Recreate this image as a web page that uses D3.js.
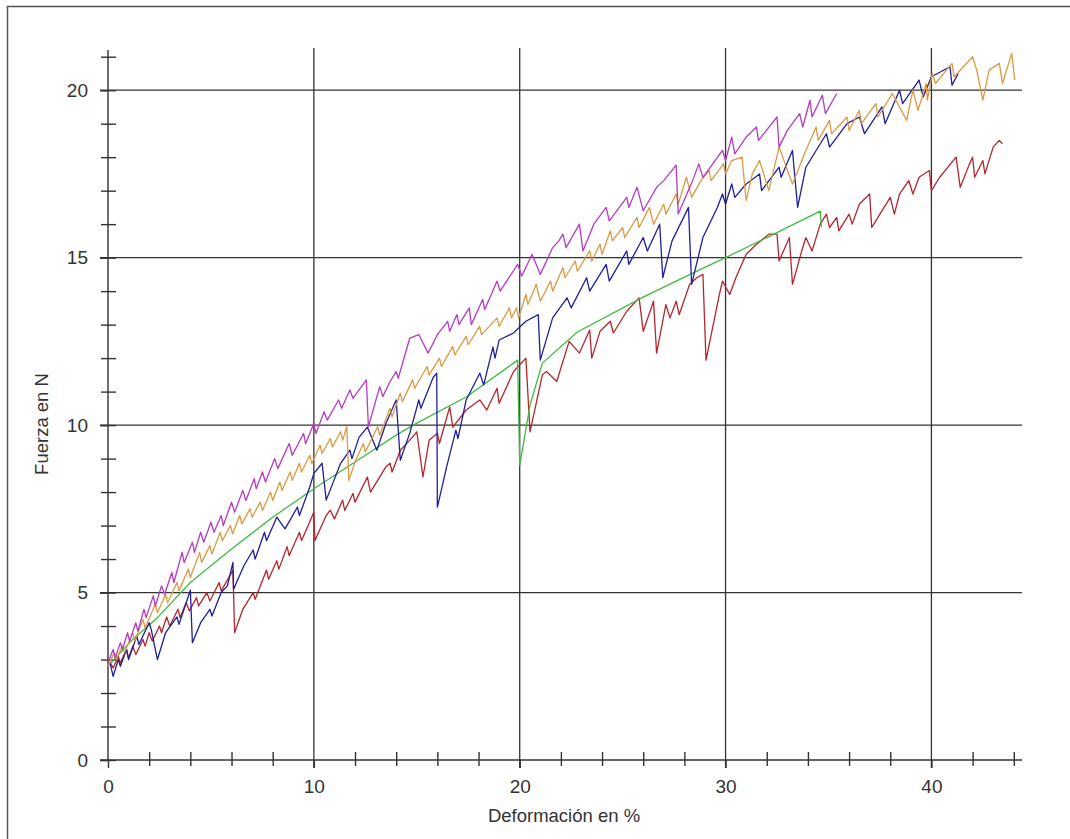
<!DOCTYPE html>
<html>
<head>
<meta charset="utf-8">
<script src="https://cdn.jsdelivr.net/npm/d3@7"></script>
<style>
  html, body { margin: 0; padding: 0; background: #fff; }
  svg { display: block; }
  text { font-family: "Liberation Sans", Arial, sans-serif; fill: #333; }
</style>
</head>
<body>
<div id="chart"></div>
<script>
// ============================================================
//  Fuerza vs. deformación — five test runs
// ============================================================

// ---- data: [deformación %, fuerza N] ----
const purple = [
  [0.0,2.9],[0.25,3.3],[0.35,3.05],[0.6,3.5],[0.7,3.3],[0.95,3.8],[1.05,3.55],[1.35,4.1],[1.45,3.85],
  [1.75,4.5],[1.85,4.25],[2.2,4.9],[2.3,4.6],[2.6,5.2],[2.75,4.95],[3.1,5.6],[3.2,5.3],[3.6,6.2],[3.7,5.9],
  [4.1,6.5],[4.2,6.2],[4.5,6.8],[4.65,6.5],[5.0,7.1],[5.15,6.8],[5.5,7.3],[5.6,7.0],[6.0,7.7],[6.15,7.4],
  [6.55,8.05],[6.7,7.75],[7.1,8.4],[7.2,8.1],[7.5,8.6],[7.65,8.3],[8.1,9.0],[8.25,8.7],[8.8,9.45],[8.95,9.1],
  [9.5,9.75],[9.6,9.45],[10.0,10.05],[10.1,9.75],[10.5,10.4],[10.65,10.15],[11.2,10.75],[11.35,10.5],
  [11.75,11.05],[11.9,10.8],[12.55,11.35],[12.65,9.95],[13.2,11.15],[13.35,10.85],[13.7,11.3],[14.0,11.6],
  [14.1,11.4],[14.66,12.6],[15.1,12.7],[15.55,12.15],[16.0,12.7],[16.5,13.1],[16.6,12.8],[16.95,13.3],
  [17.05,13.0],[17.55,13.5],[17.65,13.0],[18.2,13.75],[18.3,13.45],[18.9,14.3],[19.05,14.0],[19.9,14.8],
  [20.1,14.45],[20.6,15.1],[21.0,14.5],[21.6,15.3],[21.9,15.5],[22.1,15.7],[22.25,15.3],[22.9,16.0],
  [23.07,15.2],[23.6,16.0],[24.2,16.5],[24.35,16.1],[25.2,16.8],[25.3,16.5],[25.7,17.1],[26.0,16.4],
  [26.65,17.1],[27.0,17.3],[27.6,17.76],[27.7,16.3],[28.4,17.3],[28.7,17.8],[28.9,17.4],[29.85,18.2],
  [30.0,17.9],[30.3,18.6],[30.45,18.1],[31.0,18.6],[31.5,18.9],[31.6,18.5],[32.5,19.2],[32.6,18.3],
  [33.0,18.8],[33.6,19.3],[33.75,18.9],[34.1,19.7],[34.2,19.2],[34.7,19.85],[34.85,19.3],[35.4,19.9]
];

const orange = [
  [0.0,2.8],[0.3,3.2],[0.4,3.0],[0.7,3.4],[0.8,3.2],[1.2,3.8],[1.3,3.55],[1.7,4.2],[1.8,3.95],[2.3,4.65],
  [2.4,4.4],[2.8,4.95],[2.9,4.7],[3.35,5.3],[3.45,5.05],[3.9,5.7],[4.0,5.45],[4.45,6.2],[4.55,5.9],[4.95,6.4],
  [5.05,6.15],[5.45,6.8],[5.55,6.55],[5.95,7.0],[6.05,6.75],[6.4,7.3],[6.5,7.05],[6.9,7.5],[7.0,7.25],
  [7.4,7.7],[7.5,7.45],[7.9,8.0],[8.0,7.75],[8.35,8.3],[8.45,8.05],[8.85,8.6],[8.95,8.35],[9.3,8.86],
  [9.4,8.6],[9.8,9.1],[9.9,8.85],[10.3,9.4],[10.4,9.15],[10.8,9.6],[10.9,9.35],[11.3,9.8],[11.4,9.55],
  [11.6,9.95],[11.7,8.35],[12.0,8.9],[12.4,9.45],[12.5,9.2],[13.1,9.95],[13.2,9.7],[13.7,10.5],[13.8,10.25],
  [14.2,10.95],[14.3,10.7],[14.8,11.35],[14.9,11.1],[15.5,11.75],[15.6,11.5],[16.1,12.0],[16.2,11.75],
  [16.75,12.35],[16.85,12.1],[17.4,12.65],[17.5,12.4],[18.05,12.95],[18.15,12.7],[18.9,13.2],[19.0,12.95],
  [19.5,13.5],[19.6,13.2],[19.85,13.5],[19.95,13.2],[20.3,13.9],[20.4,13.6],[20.8,14.2],[21.0,13.7],
  [21.5,14.3],[21.6,14.0],[22.1,14.7],[22.2,14.4],[22.7,14.9],[22.8,14.6],[23.4,15.2],[23.5,14.9],
  [23.9,15.4],[24.0,15.1],[24.4,15.8],[24.5,15.5],[25.0,15.9],[25.1,15.6],[25.7,16.2],[25.8,15.9],
  [26.3,16.5],[26.5,16.0],[27.0,16.6],[27.1,16.3],[27.6,16.9],[27.7,16.6],[28.1,17.4],[28.35,16.8],
  [28.8,17.3],[29.2,17.6],[29.3,17.3],[29.9,17.8],[30.0,17.5],[30.3,17.9],[30.8,18.0],[31.0,16.7],
  [31.3,17.5],[31.65,17.9],[32.1,17.0],[32.6,18.3],[33.25,17.2],[33.9,18.2],[34.4,18.9],[34.5,18.5],
  [35.05,19.1],[35.15,18.7],[35.9,19.2],[36.0,18.8],[36.5,19.4],[36.6,19.0],[37.3,19.6],[37.4,19.2],
  [38.1,19.9],[38.8,19.1],[39.1,20.0],[39.35,19.4],[39.75,20.2],[39.8,19.7],[40.05,20.5],[40.2,20.2],
  [41.0,20.8],[41.1,20.4],[42.0,21.0],[42.2,20.6],[42.5,19.7],[42.8,20.6],[43.3,20.8],[43.45,20.2],
  [43.9,21.1],[44.05,20.3]
];

const blue = [
  [0.1,2.9],[0.25,2.5],[0.5,3.0],[0.6,2.8],[0.9,3.3],[1.0,3.0],[1.4,3.7],[1.5,3.45],[2.0,4.1],[2.1,3.9],
  [2.4,3.0],[2.8,3.8],[3.35,4.27],[3.45,4.05],[4.0,5.07],[4.1,3.5],[4.5,4.1],[4.95,4.5],[5.05,4.3],
  [5.5,5.0],[5.8,5.2],[6.07,5.9],[6.1,5.1],[6.6,5.8],[7.05,6.27],[7.15,6.0],[7.6,6.8],[7.7,6.55],
  [8.2,7.25],[8.6,6.9],[9.2,7.55],[9.3,7.3],[9.8,8.15],[10.0,8.56],[10.4,8.86],[10.6,7.76],[11.3,8.86],
  [11.75,9.25],[11.85,9.0],[12.2,9.64],[12.6,9.94],[13.06,9.25],[13.5,10.05],[14.0,10.75],[14.2,8.95],
  [14.66,9.76],[15.1,10.75],[15.2,10.5],[15.8,11.43],[15.97,11.55],[16.0,7.55],[16.45,8.75],[16.9,9.85],
  [17.0,9.6],[17.4,10.75],[18.06,11.55],[18.25,11.2],[18.7,12.33],[18.8,12.0],[19.0,12.54],[19.7,12.75],
  [20.0,12.93],[20.3,13.1],[20.9,13.3],[21.0,11.94],[21.6,13.2],[22.3,13.8],[22.5,13.5],[23.25,14.4],
  [23.4,14.0],[23.9,14.5],[24.2,14.8],[24.35,14.3],[25.2,15.2],[25.3,14.8],[26.0,15.6],[26.2,15.2],
  [26.8,16.0],[26.95,14.4],[27.4,15.5],[28.2,16.5],[28.35,14.2],[28.9,15.6],[29.6,16.5],[29.85,16.9],
  [30.0,16.6],[30.3,17.2],[30.45,16.8],[31.0,17.2],[31.65,17.5],[31.75,17.0],[32.6,17.7],[32.7,17.4],
  [33.25,18.2],[33.5,16.5],[33.9,17.7],[34.9,18.7],[35.05,18.3],[35.9,19.0],[36.5,19.2],[36.75,18.7],
  [37.6,19.5],[37.75,19.0],[38.45,20.0],[38.6,19.6],[39.4,20.3],[39.6,19.8],[40.0,20.4],[40.9,20.7],
  [41.0,20.15],[41.3,20.5]
];

const green = [
  [0.0,2.8],[0.3,3.0],[1.2,3.6],[2.4,4.25],[4.0,5.3],[6.0,6.3],[8.0,7.25],[10.0,8.1],[12.0,8.9],
  [14.0,9.7],[15.0,10.06],[17.4,10.84],[19.9,11.94],[20.0,8.8],[20.5,10.6],[21.1,11.85],[22.8,12.78],
  [26.0,13.82],[28.4,14.54],[30.0,15.0],[32.0,15.6],[34.6,16.39],[34.65,15.9]
];

const red = [
  [0.1,2.9],[0.25,2.75],[0.5,3.1],[0.6,2.9],[0.9,3.3],[1.0,3.05],[1.2,3.4],[1.35,3.15],[1.7,3.6],
  [1.8,3.4],[2.0,3.8],[2.15,3.55],[2.5,4.0],[2.6,3.8],[2.85,4.27],[3.0,4.0],[3.4,4.5],[3.5,4.25],
  [3.8,4.7],[3.95,4.45],[4.3,4.85],[4.4,4.6],[4.8,5.0],[4.95,4.75],[5.4,5.3],[5.5,5.05],[6.07,5.67],
  [6.15,3.8],[6.55,4.5],[7.05,5.0],[7.15,4.8],[7.7,5.67],[7.8,5.4],[8.2,5.95],[8.3,5.7],[8.7,6.37],
  [8.8,6.1],[9.3,6.8],[9.4,6.55],[10.0,7.4],[10.05,6.55],[10.6,7.3],[10.8,7.46],[11.0,7.2],[11.4,7.76],
  [11.5,7.45],[11.9,7.96],[12.0,7.7],[12.6,8.45],[12.75,8.0],[13.5,8.75],[13.7,8.86],[13.8,8.6],
  [14.2,9.25],[14.66,9.55],[15.0,9.8],[15.3,8.45],[15.6,9.55],[16.0,9.76],[16.1,9.45],[16.6,10.54],
  [16.75,9.94],[17.4,10.45],[18.06,10.75],[18.4,10.45],[18.9,11.1],[19.0,10.65],[19.7,11.6],[20.3,12.0],
  [20.5,9.8],[21.1,11.5],[21.3,11.6],[21.8,11.3],[22.4,12.5],[22.9,12.15],[23.4,12.84],[23.5,12.0],
  [23.9,12.8],[24.4,13.1],[24.55,12.75],[25.2,13.4],[25.8,13.8],[26.0,12.8],[26.5,13.7],[26.65,12.15],
  [27.1,13.6],[27.3,13.2],[27.6,13.7],[27.75,13.3],[28.25,14.2],[28.6,14.4],[28.9,14.5],[29.05,11.94],
  [29.7,13.9],[29.85,14.3],[30.2,13.9],[30.5,14.4],[31.0,15.1],[31.5,15.4],[32.1,15.7],[32.5,15.7],
  [32.6,14.9],[33.1,15.6],[33.25,14.2],[33.7,15.2],[33.9,15.6],[34.2,15.2],[34.6,16.0],[34.9,16.3],
  [35.05,15.9],[35.4,16.2],[35.5,15.8],[36.0,16.3],[36.15,16.0],[36.5,16.6],[37.0,16.9],[37.1,15.9],
  [37.5,16.3],[38.0,16.8],[38.2,16.3],[38.45,16.9],[38.9,17.3],[39.1,16.9],[39.4,17.4],[39.9,17.6],
  [40.0,17.0],[40.4,17.4],[41.2,18.0],[41.4,17.1],[41.85,17.8],[42.0,18.0],[42.1,17.4],[42.5,17.9],
  [42.6,17.5],[43.0,18.3],[43.3,18.5],[43.45,18.4]
];

const seriesNames  = ['red', 'green', 'blue', 'orange', 'purple'];
const seriesData   = [red, green, blue, orange, purple];
const seriesColors = ['#b3262e', '#3dbb3d', '#1f1f9e', '#dc9a45', '#b43cc4'];

const xMajor = [0, 10, 20, 30, 40];
const xMinor = [2, 4, 6, 8, 12, 14, 16, 18, 22, 24, 26, 28, 32, 34, 36, 38, 42, 44];
const yMajor = [0, 5, 10, 15, 20];
const yMinor = d3.range(0, 22);

const xTitle = 'Deformación en %';
const yTitle = 'Fuerza en N';

// ============================================================
//  Layout
// ============================================================

const W = 1070, H = 839;
const plot = { left: 108, right: 1022, top: 50, bottom: 760 };

const svg = d3.select('#chart').append('svg')
  .attr('width', W)
  .attr('height', H);

// outer frame
svg.append('rect')
  .attr('x', 7.5).attr('y', 6.5)
  .attr('width', W).attr('height', H)
  .attr('fill', 'none')
  .attr('stroke', '#555')
  .attr('stroke-width', 1.5);

const x = d3.scaleLinear().domain([0, 44.4]).range([plot.left, plot.right]);
const y = d3.scaleLinear().domain([0, 21.2]).range([plot.bottom, plot.top]);

const ink = '#333';

// ---- grid ----
const grid = svg.append('g').attr('stroke', ink).attr('stroke-width', 1.3);

grid.selectAll('.vg').data(xMajor.filter(d => d > 0)).join('line')
  .attr('x1', d => x(d)).attr('x2', d => x(d))
  .attr('y1', plot.top - 2).attr('y2', plot.bottom + 8);

grid.selectAll('.hg').data(yMajor.filter(d => d > 0)).join('line')
  .attr('y1', d => y(d)).attr('y2', d => y(d))
  .attr('x1', plot.left - 8).attr('x2', plot.right);

// ---- axes (built with d3 axis generators, then restyled) ----
const xAxisMajor = svg.append('g')
  .attr('transform', `translate(0,${plot.bottom})`)
  .call(d3.axisBottom(x).tickValues(xMajor).tickSize(8).tickPadding(12).tickFormat(d3.format('d')));

const xAxisMinor = svg.append('g')
  .attr('transform', `translate(0,${plot.bottom + 6})`)
  .call(d3.axisBottom(x).tickValues(xMinor).tickSize(-14).tickFormat(''));

const yAxisMajor = svg.append('g')
  .attr('transform', `translate(${plot.left},0)`)
  .call(d3.axisLeft(y).tickValues(yMajor).tickSize(8).tickPadding(12).tickFormat(d3.format('d')));

const yAxisMinor = svg.append('g')
  .attr('transform', `translate(${plot.left - 7},0)`)
  .call(d3.axisLeft(y).tickValues(yMinor).tickSize(-15).tickFormat(''));

[xAxisMajor, xAxisMinor, yAxisMajor, yAxisMinor].forEach(g => {
  g.select('.domain').remove();
  g.selectAll('.tick line').attr('stroke', ink).attr('stroke-width', 1.4);
  g.selectAll('.tick text')
    .attr('fill', ink)
    .style('font-size', '19px')
    .style('font-family', '"Liberation Sans", Arial, sans-serif');
});

// axis lines
svg.append('line')
  .attr('x1', plot.left - 8).attr('x2', plot.right)
  .attr('y1', plot.bottom).attr('y2', plot.bottom)
  .attr('stroke', ink).attr('stroke-width', 1.4);
svg.append('line')
  .attr('x1', plot.left).attr('x2', plot.left)
  .attr('y1', plot.top).attr('y2', plot.bottom)
  .attr('stroke', ink).attr('stroke-width', 1.4);

// ---- titles ----
svg.append('text')
  .attr('x', 564)
  .attr('y', 822)
  .attr('text-anchor', 'middle')
  .style('font-size', '18.5px')
  .text(xTitle);

svg.append('text')
  .attr('transform', `translate(48,${424}) rotate(-90)`)
  .attr('text-anchor', 'middle')
  .style('font-size', '18.5px')
  .text(yTitle);

// ============================================================
//  Curves
// ============================================================

const line = d3.line()
  .x(d => x(d[0]))
  .y(d => y(d[1]));

svg.append('g').selectAll('path')
  .data(seriesData)
  .join('path')
  .attr('class', (d, i) => 'curve-' + seriesNames[i])
  .attr('fill', 'none')
  .attr('stroke', (d, i) => seriesColors[i])
  .attr('stroke-width', 1.3)
  .attr('stroke-linejoin', 'round')
  .attr('d', line);
</script>
</body>
</html>
